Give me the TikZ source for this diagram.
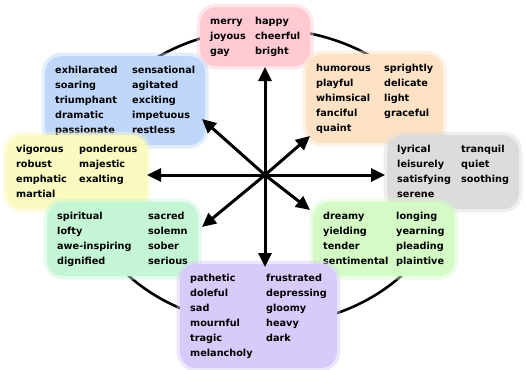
\documentclass[tikz,border=0pt]{standalone}
\usepackage{fontspec}
\setmainfont{DejaVu Sans}
\usepackage{xcolor}
\usetikzlibrary{arrows.meta}
\definecolor{moodpink}{RGB}{255,202,210}
\definecolor{moodblue}{RGB}{190,215,250}
\definecolor{moodorange}{RGB}{253,226,198}
\definecolor{moodyellow}{RGB}{250,250,192}
\definecolor{moodgray}{RGB}{220,220,220}
\definecolor{moodmint}{RGB}{196,245,212}
\definecolor{moodlime}{RGB}{212,250,198}
\definecolor{moodviolet}{RGB}{216,202,250}

\begin{document}
\begin{tikzpicture}[
    x=1bp, y=-1bp,
    mood/.style={rectangle, rounded corners=16bp, fill=#1, draw=none, preaction={draw=#1, draw opacity=0.45, line width=7bp}, inner xsep=10bp, inner ysep=7bp, anchor=north west, font=\fontsize{9.7bp}{15bp}\selectfont\bfseries},
    axis/.style={line width=3bp, -{Triangle[length=14bp,width=13bp]}},
    ring/.style={line width=2.6bp}
]
    \useasboundingbox (0,0) rectangle (526,369);

    % Centre and ring
    \coordinate (c) at (265,175);
    \coordinate (ringc) at (265,177);
    \draw[ring] (ringc) ellipse [x radius=183bp, y radius=148bp];

    % Mood groups
    \node[mood=moodpink] (joy) at (200,7) {\begin{tabular}{@{}p{45bp}@{}l@{}}
        merry & happy\\ joyous & cheerful\\ gay & bright\end{tabular}};
    \node[mood=moodblue] (excite) at (45,56) {\begin{tabular}{@{}p{77bp}@{}l@{}}
        exhilarated & sensational\\ soaring & agitated\\ triumphant & exciting\\ dramatic & impetuous\\ passionate & restless\end{tabular}};
    \node[mood=moodorange] (humour) at (306,54) {\begin{tabular}{@{}p{68bp}@{}l@{}}
        humorous & sprightly\\ playful & delicate\\ whimsical & light\\ fanciful & graceful\\ quaint & \end{tabular}};
    \node[mood=moodyellow] (vigour) at (6,135) {\begin{tabular}{@{}p{63bp}@{}l@{}}
        vigorous & ponderous\\ robust & majestic\\ emphatic & exalting\\ martial & \end{tabular}};
    \node[mood=moodgray] (calm) at (387,135) {\begin{tabular}{@{}p{64bp}@{}l@{}}
        lyrical & tranquil\\ leisurely & quiet\\ satisfying & soothing\\ serene & \end{tabular}};
    \node[mood=moodmint] (solemn) at (47,202) {\begin{tabular}{@{}p{91bp}@{}l@{}}
        spiritual & sacred\\ lofty & solemn\\ awe-inspiring & sober\\ dignified & serious\end{tabular}};
    \node[mood=moodlime] (dream) at (313,202) {\begin{tabular}{@{}p{73bp}@{}l@{}}
        dreamy & longing\\ yielding & yearning\\ tender & pleading\\ sentimental & plaintive\end{tabular}};
    \node[mood=moodviolet] (sad) at (180,264) {\begin{tabular}{@{}p{76bp}@{}l@{}}
        pathetic & frustrated\\ doleful & depressing\\ sad & gloomy\\ mournful & heavy\\ tragic & dark\\ melancholy & \end{tabular}};

    % Arrow tips
    \coordinate (tipN) at (265,67);
    \coordinate (tipS) at (265,267);
    \coordinate (tipW) at (147,175);
    \coordinate (tipE) at (385,175);
    \coordinate (tipNW) at (202,119);
    \coordinate (tipNE) at (310,136);
    \coordinate (tipSW) at (202,227);
    \coordinate (tipSE) at (310,210);

    \foreach \t in {tipN,tipS,tipW,tipE,tipNW,tipNE,tipSW,tipSE}
        \draw[axis] (c) -- (\t);

\end{tikzpicture}
\end{document}
